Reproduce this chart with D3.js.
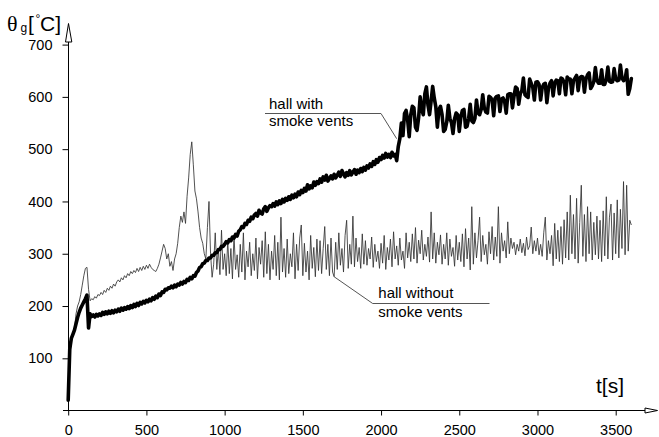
<!DOCTYPE html>
<html>
<head>
<meta charset="utf-8">
<script src="https://cdn.jsdelivr.net/npm/d3@7"></script>
<style>
  body { margin: 0; background: #fff; }
  svg { display: block; }
  text { font-family: "Liberation Sans", Arial, sans-serif; fill: #000; }
</style>
</head>
<body>
<svg id="chart" width="659" height="437"></svg>
<script>
// Axis ticks
const xTicks = [0, 500, 1000, 1500, 2000, 2500, 3000, 3500];
const yTicks = [100, 200, 300, 400, 500, 600, 700];

// Gas temperature in the hall with smoke vents, one reading every 10 s
const withVentsStep = 10;
const withVents = [
  20, 118, 138, 146, 154, 166, 178, 188, 196, 202,          // 0-90
  208, 214, 221, 158, 185, 180, 183, 179, 184, 181,         // 100-190
  185, 182, 188, 184, 189, 185, 190, 186, 191, 187,         // 200-290
  192, 189, 194, 190, 196, 192, 197, 194, 199, 195,         // 300-390
  201, 197, 203, 199, 205, 201, 207, 204, 209, 206,         // 400-490
  211, 208, 213, 210, 216, 213, 219, 216, 223, 220,         // 500-590
  227, 226, 232, 231, 235, 234, 238, 235, 240, 237,         // 600-690
  242, 240, 245, 242, 247, 245, 251, 249, 255, 252,         // 700-790
  258, 257, 264, 267, 274, 275, 281, 282, 287, 287,         // 800-890
  292, 292, 297, 297, 302, 302, 308, 308, 314, 314,         // 900-990
  318, 323, 321, 327, 325, 332, 330, 337, 334, 343,         // 1000-1090
  346, 352, 350, 358, 356, 364, 362, 370, 367, 374,         // 1100-1190
  377, 372, 383, 378, 376, 386, 390, 381, 388, 392,         // 1200-1290
  390, 396, 391, 399, 394, 401, 396, 404, 399, 406,         // 1300-1390
  402, 409, 404, 412, 407, 414, 409, 418, 413, 421,         // 1400-1490
  417, 425, 420, 432, 424, 430, 426, 437, 431, 438,         // 1500-1590
  434, 443, 437, 447, 441, 450, 439, 444, 449, 443,         // 1600-1690
  452, 445, 450, 456, 448, 459, 453, 447, 455, 450,         // 1700-1790
  459, 451, 456, 461, 452, 460, 455, 463, 457, 465,         // 1800-1890
  460, 468, 464, 472, 467, 476, 471, 480, 475, 484,         // 1900-1990
  480, 488, 483, 492, 485, 490, 484, 494, 487, 490,         // 2000-2090
  478, 505, 520, 550, 526, 568, 574, 556, 524, 566,         // 2100-2190
  582, 579, 542, 536, 560, 600, 576, 566, 606, 619,         // 2200-2290
  584, 566, 592, 620, 598, 581, 542, 576, 582, 566,         // 2300-2390
  534, 538, 552, 584, 559, 551, 530, 558, 569, 566,         // 2400-2490
  534, 561, 574, 576, 542, 544, 559, 586, 554, 551,         // 2500-2590
  559, 594, 569, 566, 576, 604, 579, 571, 569, 601,         // 2600-2690
  599, 594, 564, 598, 601, 602, 572, 596, 598, 591,         // 2700-2790
  569, 604, 606, 606, 579, 601, 619, 616, 586, 606,         // 2800-2890
  612, 636, 604, 601, 599, 634, 626, 618, 594, 628,         // 2900-2990
  629, 624, 594, 618, 624, 626, 589, 616, 626, 631,         // 3000-3090
  602, 626, 632, 631, 606, 636, 634, 628, 604, 638,         // 3100-3190
  634, 634, 606, 631, 636, 641, 612, 636, 639, 638,         // 3200-3290
  609, 634, 642, 646, 616, 621, 629, 656, 632, 626,         // 3300-3390
  626, 652, 624, 624, 634, 657, 630, 628, 629, 654,         // 3400-3490
  634, 631, 632, 661, 636, 631, 634, 652, 605, 616,         // 3500-3590
  635                                                       // 3600
];

// Gas temperature in the hall without smoke vents, one reading every 10 s
const withoutVentsStep = 10;
const withoutVents = [
  20, 95, 138, 146, 156, 185, 200, 208, 222, 240,           // 0-90
  258, 272, 274, 232, 210, 214, 212, 218, 215, 222,         // 100-190
  220, 226, 222, 230, 226, 234, 230, 238, 234, 242,         // 200-290
  238, 246, 250, 246, 254, 250, 258, 254, 262, 258,         // 300-390
  266, 262, 268, 264, 272, 266, 274, 268, 276, 270,         // 400-490
  278, 272, 280, 274, 270, 268, 266, 272, 280, 292,         // 500-590
  305, 318, 310, 290, 300, 276, 285, 268, 290, 300,         // 600-690
  320, 350, 372, 360, 380, 358, 410, 445, 490, 514,         // 700-790
  470, 420, 405, 380, 350, 330, 320, 300, 290, 350,         // 800-890
  400, 300, 255, 280, 340, 270, 310, 260, 345, 270,         // 900-990
  300, 258, 325, 262, 310, 252, 335, 270, 298, 255,         // 1000-1090
  318, 265, 340, 250, 305, 275, 322, 258, 300, 268,         // 1100-1190
  330, 252, 312, 280, 325, 255, 342, 262, 318, 250,         // 1200-1290
  305, 270, 335, 258, 322, 250, 370, 265, 310, 255,         // 1300-1390
  328, 262, 300, 275, 340, 252, 318, 268, 330, 355,         // 1400-1490
  258, 320, 265, 305, 250, 335, 272, 312, 256, 328,         // 1500-1590
  268, 325, 262, 310, 352, 270, 318, 258, 330, 265,         // 1600-1690
  256, 322, 270, 340, 278, 310, 265, 335, 364, 272,         // 1700-1790
  318, 280, 372, 275, 330, 285, 312, 272, 338, 280,         // 1800-1890
  325, 278, 310, 290, 332, 274, 318, 285, 305, 272,         // 1900-1990
  320, 282, 335, 270, 312, 288, 328, 275, 342, 290,         // 2000-2090
  315, 278, 330, 288, 305, 272, 340, 292, 322, 285,         // 2100-2190
  338, 290, 350, 282, 326, 300, 345, 288, 318, 295,         // 2200-2290
  332, 284, 380, 290, 340, 282, 322, 298, 336, 280,         // 2300-2390
  318, 290, 340, 278, 328, 295, 312, 276, 335, 288,         // 2400-2490
  322, 285, 338, 275, 348, 290, 330, 269, 390, 280,         // 2500-2590
  340, 292, 325, 370, 285, 335, 298, 318, 280, 342,         // 2600-2690
  300, 352, 288, 332, 295, 390, 282, 340, 305, 325,         // 2700-2790
  292, 361, 300, 330, 310, 322, 298, 318, 305, 328,         // 2800-2890
  302, 320, 296, 332, 308, 315, 351, 300, 325, 305,         // 2900-2990
  330, 298, 318, 295, 340, 370, 288, 325, 300, 335,         // 3000-3090
  277, 358, 290, 345, 285, 352, 280, 365, 292, 380,         // 3100-3190
  288, 412, 300, 375, 290, 406, 282, 360, 431, 295,         // 3200-3290
  375, 285, 390, 300, 380, 288, 360, 298, 372, 290,         // 3300-3390
  364, 285, 382, 296, 409, 290, 370, 395, 288, 378,         // 3400-3490
  300, 403, 292, 385, 310, 438, 298, 431, 305, 364,         // 3500-3590
  355                                                       // 3600
];

// Series labels and the [time, temperature] point each leader line points to
const seriesLabels = [["hall with", "smoke vents"], ["hall without", "smoke vents"]];
const labelAnchors = [[2100, 520], [1700, 256]];

const svg = d3.select("#chart");

const x = d3.scaleLinear().domain([0, 3500]).range([68.2, 615.7]);
const y = d3.scaleLinear().domain([0, 700]).range([410.6, 44.6]);

const axisX = 68.5;    // pixel column of the vertical axis
const axisY = 410.5;   // pixel row of the horizontal axis
const plain = d3.format("d");

// ---- Axes ----
const gy = svg.append("g")
  .attr("transform", `translate(${axisX},0)`)
  .call(d3.axisLeft(y).tickValues(yTicks).tickFormat(plain)
    .tickSize(6).tickPadding(10).tickSizeOuter(0));
gy.select(".domain").remove();
gy.selectAll("text").attr("font-size", 14.5).attr("font-family", null);
gy.selectAll("line").attr("stroke", "#000");

const gx = svg.append("g")
  .attr("transform", `translate(0,${axisY})`)
  .call(d3.axisBottom(x).tickValues(xTicks).tickFormat(plain)
    .tickSize(5).tickPadding(9).tickSizeOuter(0));
gx.select(".domain").remove();
gx.selectAll("text").attr("font-size", 14.5).attr("font-family", null);
gx.selectAll("line").attr("stroke", "#000");

// axis lines with open arrow heads
svg.append("line")
  .attr("x1", axisX).attr("x2", axisX)
  .attr("y1", axisY).attr("y2", 42)
  .attr("stroke", "#000").attr("stroke-width", 1);
svg.append("path")
  .attr("d", `M${axisX},23.5 L${axisX - 3},42 L${axisX + 3.3},42 Z`)
  .attr("fill", "#fff").attr("stroke", "#000").attr("stroke-width", 1);

svg.append("line")
  .attr("x1", 63).attr("x2", 645)
  .attr("y1", axisY).attr("y2", axisY)
  .attr("stroke", "#000").attr("stroke-width", 1);
svg.append("path")
  .attr("d", `M645,${axisY - 2.5} L657.5,${axisY} L645,${axisY + 2.5} Z`)
  .attr("fill", "#fff").attr("stroke", "#000").attr("stroke-width", 1);

// axis titles
const yTitle = svg.append("g");
yTitle.append("text").attr("x", 7).attr("y", 30.5).attr("font-size", 22)
  .style("font-family", "'Liberation Serif', 'Times New Roman', serif").text("θ");
yTitle.append("text").attr("x", 20.5).attr("y", 32).attr("font-size", 12).text("g");
yTitle.append("text").attr("x", 28).attr("y", 30.5).attr("font-size", 21).text("[");
yTitle.append("text").attr("x", 35.5).attr("y", 23).attr("font-size", 12).text("°");
yTitle.append("text").attr("x", 40).attr("y", 30.5).attr("font-size", 21).text("C]");

svg.append("text").attr("x", 596).attr("y", 392.5).attr("font-size", 21).text("t[s]");

// ---- Series ----
const lineFor = step => d3.line()
  .x((d, i) => x(i * step))
  .y(d => y(d));

svg.append("path")
  .datum(withoutVents)
  .attr("d", lineFor(withoutVentsStep))
  .attr("fill", "none")
  .attr("stroke", "#333")
  .attr("stroke-width", 0.85)
  .attr("stroke-linejoin", "round");

svg.append("path")
  .datum(withVents)
  .attr("d", lineFor(withVentsStep))
  .attr("fill", "none")
  .attr("stroke", "#000")
  .attr("stroke-width", 3.6)
  .attr("stroke-linejoin", "round")
  .attr("stroke-linecap", "round");

// ---- Series labels with leader lines ----
// upper label, leader down to the curve
{
  const [t, v] = labelAnchors[0];
  svg.append("polyline")
    .attr("points", `265,113.5 381,113.5 ${x(t)},${y(v)}`)
    .attr("fill", "none").attr("stroke", "#555").attr("stroke-width", 1);
  svg.append("text").attr("x", 269).attr("y", 109.3).attr("font-size", 15).text(seriesLabels[0][0]);
  svg.append("text").attr("x", 269).attr("y", 125.5).attr("font-size", 15).text(seriesLabels[0][1]);
}
// lower label, leader up to the curve
{
  const [t, v] = labelAnchors[1];
  svg.append("polyline")
    .attr("points", `${x(t)},${y(v)} 372.7,303.5 489.5,303.5`)
    .attr("fill", "none").attr("stroke", "#555").attr("stroke-width", 1);
  svg.append("text").attr("x", 378.3).attr("y", 297.7).attr("font-size", 15).text(seriesLabels[1][0]);
  svg.append("text").attr("x", 378.3).attr("y", 316.5).attr("font-size", 15).text(seriesLabels[1][1]);
}
</script>
</body>
</html>
